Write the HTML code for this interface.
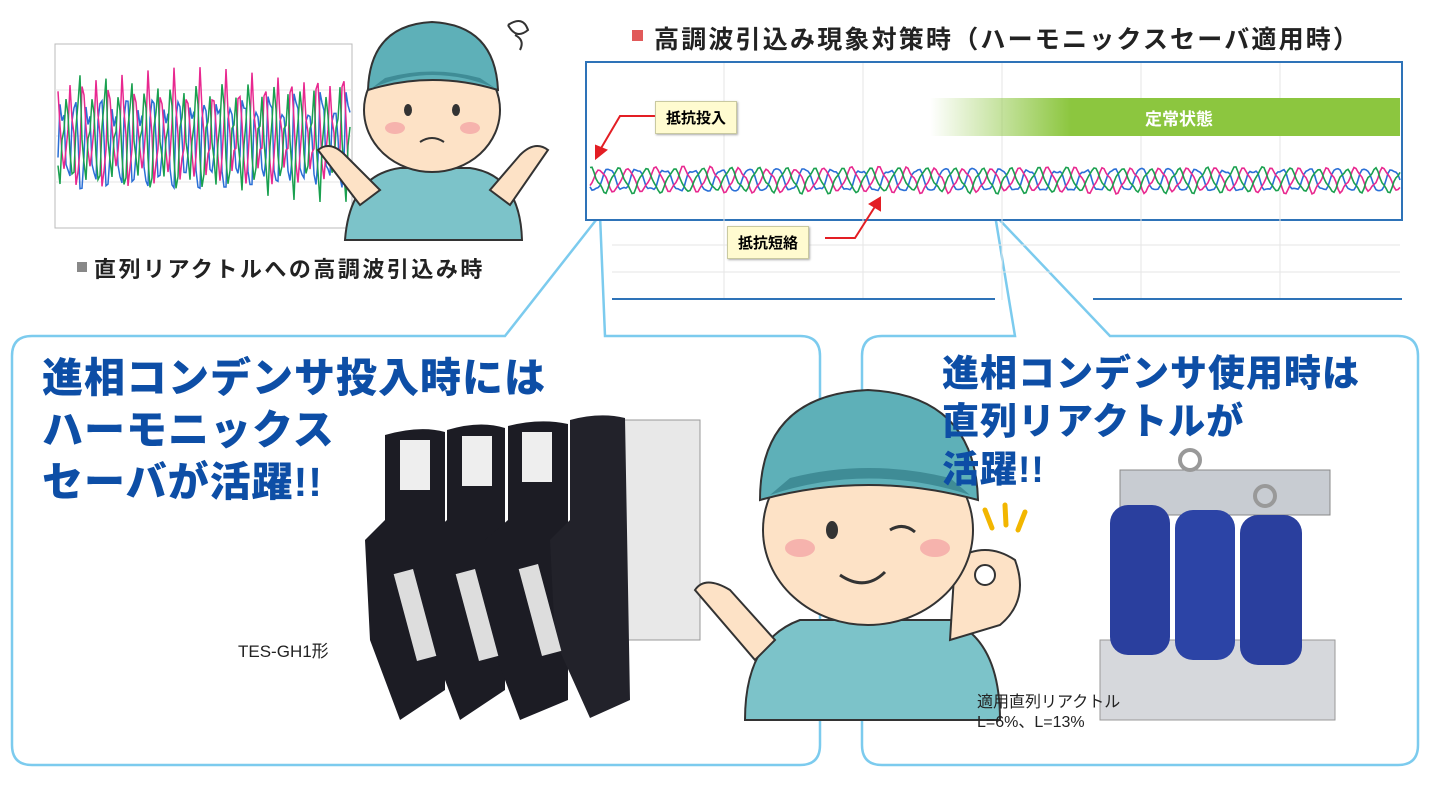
<!DOCTYPE html>
<html><head><meta charset="utf-8">
<style>
body{margin:0;width:1440px;height:800px;background:#fff;position:relative;overflow:hidden;font-family:"Liberation Sans","Noto Sans CJK JP",sans-serif}
.abs{position:absolute}
.big{color:#0d4ea6;font-weight:900;font-size:41px;line-height:52px;letter-spacing:1px}
.tag{background:#fffbd0;border:1px solid #c9c9a0;font-size:15px;font-weight:bold;padding:5px 10px;box-shadow:1px 1px 2px #aaa}
</style></head><body>
<svg class="abs" style="left:0;top:0" width="1440" height="800">
 <g fill="#fff" stroke="#7ccbee" stroke-width="2.5">
  <path d="M32 336 H505 L600 215 L605 336 H800 Q820 336 820 356 V745 Q820 765 800 765 H32 Q12 765 12 745 V356 Q12 336 32 336Z"/>
  <path d="M882 336 H1015 L995 215 L1110 336 H1398 Q1418 336 1418 356 V745 Q1418 765 1398 765 H882 Q862 765 862 745 V356 Q862 336 882 336Z"/>
 </g>
 <rect x="55" y="44" width="297" height="184" fill="#fff" stroke="#bbb"/>
 <g stroke="#e4e4e4"><line x1="55" y1="90" x2="352" y2="90"/><line x1="55" y1="136" x2="352" y2="136"/><line x1="55" y1="182" x2="352" y2="182"/></g>
 <g id="w1" fill="none" stroke-width="1.5"></g>
 <rect x="586" y="62" width="816" height="158" fill="#fff" stroke="#2e73b8" stroke-width="2"/>
 <g stroke="#e6e6e6">
  <line x1="724" y1="63" x2="724" y2="300"/><line x1="863" y1="63" x2="863" y2="300"/><line x1="1002" y1="63" x2="1002" y2="300"/><line x1="1141" y1="63" x2="1141" y2="300"/><line x1="1280" y1="63" x2="1280" y2="300"/>
  <line x1="612" y1="245" x2="1400" y2="245"/><line x1="612" y1="272" x2="1400" y2="272"/>
 </g>
 <line x1="612" y1="299" x2="995" y2="299" stroke="#2e73b8" stroke-width="2"/>
 <line x1="1093" y1="299" x2="1402" y2="299" stroke="#2e73b8" stroke-width="2"/>
 <defs><linearGradient id="gg" x1="0" x2="1"><stop offset="0" stop-color="#8cc63f" stop-opacity="0"/><stop offset="0.3" stop-color="#8cc63f"/></linearGradient></defs>
 <rect x="930" y="98" width="470" height="38" fill="url(#gg)"/>
 <g id="w2" fill="none" stroke-width="1.6"></g>
 <g stroke="#e31e24" stroke-width="2" fill="#e31e24">
  <polyline points="655,116 620,116 600,150" fill="none"/><polygon points="596,158 596,146 606,150"/>
  <polyline points="825,238 855,238 876,205" fill="none"/><polygon points="880,198 870,204 880,210"/>
 </g>
 <rect x="632" y="30" width="11" height="11" fill="#e15a5a"/>
 <rect x="77" y="262" width="10" height="10" fill="#888"/>
 <g>
  <path d="M345 240 Q350 175 400 168 L470 168 Q520 175 522 240Z" fill="#7cc3c9" stroke="#333" stroke-width="2"/>
  <path d="M318 150 Q330 140 345 155 L380 190 L360 205Z" fill="#fde2c6" stroke="#333" stroke-width="2"/>
  <path d="M548 150 Q535 140 520 155 L490 190 L510 205Z" fill="#fde2c6" stroke="#333" stroke-width="2"/>
  <ellipse cx="432" cy="110" rx="68" ry="62" fill="#fde2c6" stroke="#333" stroke-width="2"/>
  <path d="M368 90 Q370 25 432 22 Q495 25 498 90 Q432 70 368 90Z" fill="#5eb0b8" stroke="#333" stroke-width="2"/>
  <path d="M372 88 Q432 62 495 88 L480 78 Q432 65 385 78Z" fill="#3f8c96"/>
  <ellipse cx="408" cy="110" rx="4" ry="6" fill="#333"/><ellipse cx="456" cy="110" rx="4" ry="6" fill="#333"/>
  <ellipse cx="395" cy="128" rx="10" ry="6" fill="#f6b3ad"/><ellipse cx="470" cy="128" rx="10" ry="6" fill="#f6b3ad"/>
  <path d="M420 142 Q432 134 444 142" stroke="#333" stroke-width="2" fill="none"/>
  <path d="M508 25 q15 -10 20 5 q-12 10 -20 -5 M515 35 q10 5 5 15" stroke="#333" stroke-width="2" fill="none"/>
 </g>
 <g>
  <rect x="610" y="420" width="90" height="220" fill="#e8e8e8" stroke="#999"/>
  <path d="M385 435 Q420 425 445 432 L445 690 L400 720 L370 640 L365 540 L385 520Z" fill="#1c1c24"/>
  <path d="M447 430 Q480 420 505 428 L505 690 L460 720 L430 640 L425 540 L447 520Z" fill="#1c1c24"/>
  <path d="M508 426 Q540 418 568 424 L568 700 L520 720 L490 640 L485 540 L508 520Z" fill="#1c1c24"/>
  <path d="M570 420 Q600 412 625 418 L630 700 L590 718 L555 640 L550 540 L570 520Z" fill="#22222a"/>
  <rect x="400" y="440" width="30" height="50" fill="#eee"/><rect x="462" y="436" width="30" height="50" fill="#eee"/><rect x="522" y="432" width="30" height="50" fill="#eee"/>
  <rect x="405" y="570" width="20" height="90" fill="#ddd" transform="rotate(-15 415 615)"/>
  <rect x="467" y="570" width="20" height="90" fill="#ddd" transform="rotate(-15 477 615)"/>
  <rect x="530" y="565" width="20" height="90" fill="#ddd" transform="rotate(-15 540 610)"/>
 </g>
 <g>
  <rect x="1120" y="470" width="210" height="45" fill="#c8ccd2" stroke="#888"/>
  <rect x="1100" y="640" width="235" height="80" fill="#d6d8dc" stroke="#999"/>
  <rect x="1110" y="505" width="60" height="150" rx="18" fill="#2a3f9e"/>
  <rect x="1175" y="510" width="60" height="150" rx="18" fill="#2c44a6"/>
  <rect x="1240" y="515" width="62" height="150" rx="18" fill="#2a3f9e"/>
  <circle cx="1190" cy="460" r="10" fill="none" stroke="#999" stroke-width="4"/><circle cx="1265" cy="496" r="10" fill="none" stroke="#999" stroke-width="4"/>
 </g>
 <g>
  <path d="M745 720 Q745 640 800 620 L950 620 Q1000 640 1000 720Z" fill="#7cc3c9" stroke="#333" stroke-width="2"/>
  <path d="M695 590 Q705 575 730 590 L775 640 L755 660Z" fill="#fde2c6" stroke="#333" stroke-width="2"/>
  <path d="M955 560 Q985 540 1015 560 Q1030 600 1000 625 L950 640Z" fill="#fde2c6" stroke="#333" stroke-width="2"/>
  <circle cx="985" cy="575" r="10" fill="#fff" stroke="#333" stroke-width="2"/>
  <ellipse cx="868" cy="530" rx="105" ry="95" fill="#fde2c6" stroke="#333" stroke-width="2"/>
  <path d="M760 500 Q760 395 868 390 Q975 395 978 500 Q868 470 760 500Z" fill="#5eb0b8" stroke="#333" stroke-width="2"/>
  <path d="M770 495 Q868 462 970 495 L950 478 Q868 458 790 478Z" fill="#3f8c96"/>
  <ellipse cx="832" cy="530" rx="6" ry="9" fill="#333"/>
  <path d="M890 530 Q903 522 915 532" stroke="#333" stroke-width="3" fill="none"/>
  <ellipse cx="800" cy="548" rx="15" ry="9" fill="#f6b3ad"/><ellipse cx="935" cy="548" rx="15" ry="9" fill="#f6b3ad"/>
  <path d="M840 575 Q865 592 885 572" stroke="#333" stroke-width="3" fill="none"/>
  <g stroke="#f2b600" stroke-width="5" stroke-linecap="round"><line x1="985" y1="510" x2="992" y2="528"/><line x1="1005" y1="505" x2="1006" y2="525"/><line x1="1025" y1="512" x2="1018" y2="530"/></g>
 </g>
</svg>
<div class="abs" style="left:654px;top:20px;font-size:25px;font-weight:bold;color:#222;white-space:nowrap;letter-spacing:2.2px">高調波引込み現象対策時（ハーモニックスセーバ適用時）</div>
<div class="abs" style="left:94px;top:252px;font-size:22px;font-weight:bold;color:#222;white-space:nowrap;letter-spacing:2.5px">直列リアクトルへの高調波引込み時</div>
<div class="abs" style="left:1145px;top:105px;font-size:17px;font-weight:bold;color:#fff">定常状態</div>
<div class="abs tag" style="left:655px;top:101px">抵抗投入</div>
<div class="abs tag" style="left:727px;top:226px">抵抗短絡</div>
<div class="abs big" style="left:42px;top:352px">進相コンデンサ投入時には<br>ハーモニックス<br>セーバが活躍!!</div>
<div class="abs big" style="left:942px;top:350px;font-size:37px;line-height:48px">進相コンデンサ使用時は<br>直列リアクトルが<br>活躍!!</div>
<div class="abs" style="left:238px;top:637px;font-size:17px;color:#222">TES-GH1形</div>
<div class="abs" style="left:977px;top:693px;font-size:16px;line-height:20px;color:#222">適用直列リアクトル<br>L=6%、L=13%</div>
<script>
function wave(g,x0,x1,cy,amp,per,ph,col,noise,h){var d="M";for(var x=x0;x<=x1;x+=2){var a=amp*(1+noise*Math.sin(x*0.37+ph*3)*Math.cos(x*0.11));var y=cy+a*Math.sin((x/per)*2*Math.PI+ph)+amp*h*Math.sin((x/per)*6*Math.PI+ph*2);d+=x+","+y.toFixed(1)+" ";}var p=document.createElementNS("http://www.w3.org/2000/svg","path");p.setAttribute("d",d);p.setAttribute("stroke",col);document.getElementById(g).appendChild(p);}
var c=["#2a6fd6","#e8288f","#1aa04f"];
for(var i=0;i<3;i++)wave("w1",58,350,138,42,13,i*2.1,c[i],0.5,0.25);
for(var i=0;i<3;i++)wave("w2",590,1400,180,11,28,i*2.1,c[i],0.2,0.15);
</script>
</body></html>
